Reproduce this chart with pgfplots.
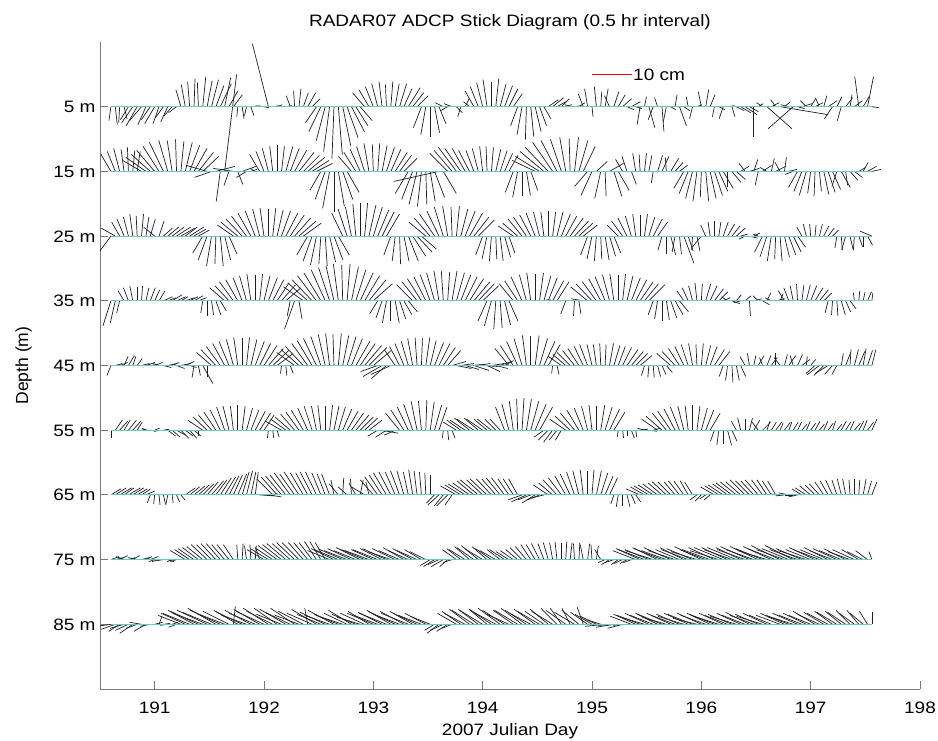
\documentclass[border=0pt]{standalone}
\usepackage{fontspec}
\setmainfont{Liberation Sans}[FakeStretch=1.15]
\newfontfamily\plainsans{Liberation Sans}
\usepackage{pgfplots}
\usepackage{pgfplotstable}
\pgfplotsset{compat=1.18}
\definecolor{baseC}{RGB}{105,200,200}
\definecolor{axC}{RGB}{120,120,120}

% stick tables: t = Julian day, a = east offset (px, 4 px = 1 cm), b = north offset (px)
\pgfplotstableread{
t a b
190.60 -2 -14
190.64 2 -18
190.68 -1 -16
190.72 3 -12
190.76 -8 -13
190.80 -11 -16
190.84 -11 -19
190.88 -12 -14
190.92 -8 -18
190.96 -9 -13
191.00 -10 -17
191.04 -6 -17
191.08 -8 -11
191.12 -7 -15
191.16 -8 -9
191.20 -8 -6
191.24 -5 17
191.28 -4 22
191.32 -2 25
191.36 1 28
191.40 -1 24
191.44 3 30
191.48 5 26
191.52 7 27
191.56 8 21
191.60 11 23
191.64 6 29
191.68 9 16
191.72 9 12
191.76 -1 -10
191.80 2 -12
191.84 -2 -9
191.88 3 -9
191.92 5 1
191.96 -4 1
192.00 5 -1
192.04 -16 63
192.08 6 0
192.12 5 2
192.16 -5 1
192.20 6 1
192.24 -4 11
192.28 -1 16
192.32 2 18
192.36 5 14
192.40 8 14
192.44 8 8
192.48 -11 -16
192.52 -12 -25
192.56 -9 -34
192.60 -6 -45
192.64 -2 -52
192.68 4 -48
192.72 8 -39
192.76 11 -31
192.80 13 -25
192.84 12 -19
192.88 12 -14
192.92 -12 14
192.96 -10 17
193.00 -8 20
193.04 -6 23
193.08 -3 25
193.12 -1 22
193.16 2 25
193.20 4 23
193.24 7 23
193.28 8 18
193.32 12 19
193.36 11 14
193.40 11 11
193.44 -8 -21
193.48 -5 -28
193.52 0 -30
193.56 5 -26
193.60 7 -17
193.64 -8 4
193.68 -7 -4
193.72 -8 3
193.76 6 -6
193.80 -3 -10
193.84 4 8
193.88 -6 5
193.92 -9 16
193.96 -8 20
194.00 -6 24
194.04 -4 27
194.08 0 25
194.12 3 28
194.16 6 23
194.20 8 21
194.24 9 18
194.28 9 13
194.32 -7 -19
194.36 -5 -28
194.40 -1 -33
194.44 3 -30
194.48 6 -25
194.52 7 -19
194.56 7 -12
194.60 10 7
194.64 11 9
194.68 9 5
194.72 8 8
194.76 6 2
194.80 -5 2
194.84 7 1
194.88 6 4
194.92 -5 13
194.96 -3 18
195.00 1 -10
195.04 -2 20
195.08 1 15
195.12 3 18
195.16 -5 11
195.20 5 15
195.24 7 12
195.28 9 8
195.32 7 -3
195.36 9 5
195.40 6 -2
195.44 -3 -18
195.48 2 10
195.52 6 -21
195.56 -5 -13
195.60 -3 9
195.64 2 -25
195.68 -3 -15
195.72 5 -3
195.76 2 12
195.80 7 -19
195.84 6 -4
195.88 -2 10
195.92 -3 -12
195.96 5 2
196.00 -3 15
196.04 3 17
196.08 5 12
196.12 -2 -10
196.16 6 -3
196.20 -4 -12
196.24 7 1
196.28 3 -10
196.32 8 -4
196.36 10 -6
196.40 12 -8
196.44 9 -5
196.48 0 -30
196.52 5 3
196.56 -6 4
196.60 25 -22
196.64 8 4
196.68 -5 7
196.72 48 -8
196.76 6 5
196.80 -8 2
196.84 -25 -22
196.88 7 -2
196.92 10 3
196.96 -6 6
197.00 5 8
197.04 8 4
197.08 -4 9
197.12 3 11
197.16 9 6
197.20 -8 -12
197.24 5 10
197.28 -4 -14
197.32 7 9
197.36 2 12
197.40 8 6
197.44 -4 30
197.48 6 10
197.52 6 30
197.56 7 -1
}\rA

\pgfplotstableread{
t a b
190.60 -10 17
190.64 -8 20
190.68 -6 23
190.72 -3 22
190.76 -1 24
190.80 2 21
190.84 3 20
190.88 -19 11
190.92 -20 14
190.96 -19 17
191.00 -18 21
191.04 -16 25
191.08 -14 29
191.12 -9 31
191.16 -5 31
191.20 -1 32
191.24 3 30
191.28 7 29
191.32 10 26
191.36 13 23
191.40 15 19
191.44 16 15
191.48 -21 6
191.52 -17 -6
191.56 19 5
191.60 -4 -30
191.64 12 97
191.68 -5 -14
191.72 -20 3
191.76 5 -13
191.80 14 5
191.84 -10 -6
191.88 6 2
191.92 -5 3
191.96 -10 17
192.00 -8 20
192.04 -6 23
192.08 -3 25
192.12 0 26
192.16 3 25
192.20 7 25
192.24 9 23
192.28 12 21
192.32 15 19
192.36 16 16
192.40 17 14
192.44 17 11
192.48 16 8
192.52 -11 -19
192.56 -10 -28
192.60 -7 -37
192.64 0 -41
192.68 6 -35
192.72 10 -28
192.76 12 -21
192.80 -13 15
192.84 -12 19
192.88 -10 22
192.92 -8 25
192.96 -5 28
193.00 -1 27
193.04 2 28
193.08 5 26
193.12 8 24
193.16 10 22
193.20 12 19
193.24 12 16
193.28 13 13
193.32 -13 -22
193.36 -11 -28
193.40 -8 -33
193.44 -4 -35
193.48 1 -33
193.52 5 -30
193.56 10 -26
193.60 -45 -10
193.64 13 -22
193.68 -18 18
193.72 -18 21
193.76 -18 24
193.80 -16 23
193.84 -13 23
193.88 -11 21
193.92 -8 21
193.96 -6 23
194.00 -3 25
194.04 -1 25
194.08 2 24
194.12 5 22
194.16 7 21
194.20 8 18
194.24 9 16
194.28 -8 -21
194.32 -5 -26
194.36 0 -25
194.40 4 -24
194.44 7 -19
194.48 -23 11
194.52 -24 15
194.56 -24 20
194.60 -23 24
194.64 -20 29
194.68 -16 31
194.72 -11 32
194.76 -6 34
194.80 -1 33
194.84 4 34
194.88 9 31
194.92 12 25
194.96 -13 -15
195.00 -11 -24
195.04 11 10
195.08 -6 -27
195.12 1 -25
195.16 14 8
195.20 8 -25
195.24 11 -19
195.28 -7 12
195.32 -5 15
195.36 5 -13
195.40 -3 18
195.44 -1 17
195.48 2 18
195.52 3 16
195.56 -2 -12
195.60 5 16
195.64 7 15
195.68 -1 14
195.72 8 13
195.76 8 9
195.80 8 6
195.84 -10 -17
195.88 -9 -22
195.92 -7 -27
195.96 -4 -30
196.00 -1 -26
196.04 3 -30
196.08 6 -27
196.12 8 -24
196.16 9 -20
196.20 10 -17
196.24 0 -16
196.28 9 -11
196.32 9 -8
196.36 8 5
196.40 -6 8
196.44 10 3
196.48 4 12
196.52 -3 -14
196.56 9 6
196.60 -7 4
196.64 3 13
196.68 10 5
196.72 -5 9
196.76 2 14
196.80 8 2
196.84 -8 -3
196.88 -9 -16
196.92 -8 -20
196.96 -7 -24
197.00 -3 -22
197.04 -1 -25
197.08 2 -20
197.12 5 -23
197.16 7 -21
197.20 8 -18
197.24 -5 -15
197.28 9 -16
197.32 2 -14
197.36 8 -9
197.40 8 -6
197.44 7 4
197.48 5 9
197.52 9 5
197.56 9 2
}\rB

\pgfplotstableread{
t a b
190.60 -15 -20
190.64 -14 8
190.68 -8 14
190.72 -7 17
190.76 -5 19
190.80 -3 22
190.84 -1 20
190.88 2 22
190.92 3 19
190.96 5 17
191.00 -11 9
191.04 5 15
191.08 9 8
191.12 11 9
191.16 12 9
191.20 14 9
191.24 14 8
191.28 12 9
191.32 14 9
191.36 12 7
191.40 11 6
191.44 -10 -17
191.48 -9 -24
191.52 -5 -30
191.56 -1 -28
191.60 3 -30
191.64 6 -24
191.68 8 -18
191.72 -16 11
191.76 -17 14
191.80 -16 17
191.84 -15 20
191.88 -13 23
191.92 -10 25
191.96 -7 27
192.00 -4 28
192.04 0 27
192.08 3 28
192.12 6 26
192.16 9 25
192.20 12 23
192.24 14 21
192.28 16 18
192.32 17 15
192.36 18 13
192.40 -11 -19
192.44 -9 -25
192.48 -6 -29
192.52 -2 -28
192.56 2 -30
192.60 6 -26
192.64 9 -24
192.68 11 -19
192.72 -11 23
192.76 -9 27
192.80 -6 29
192.84 -3 32
192.88 0 33
192.92 3 33
192.96 7 31
193.00 9 29
193.04 11 26
193.08 12 24
193.12 13 22
193.16 -7 -19
193.20 -3 -25
193.24 1 -28
193.28 5 -25
193.32 10 -25
193.36 13 -20
193.40 15 -16
193.44 15 -13
193.48 -17 14
193.52 -16 18
193.56 -15 22
193.60 -12 25
193.64 -9 29
193.68 -5 30
193.72 -1 29
193.76 3 30
193.80 7 27
193.84 10 25
193.88 13 23
193.92 15 19
193.96 16 16
194.00 -7 -19
194.04 -5 -23
194.08 -2 -25
194.12 1 -23
194.16 3 -25
194.20 6 -21
194.24 6 -17
194.28 -15 10
194.32 -15 13
194.36 -14 17
194.40 -13 19
194.44 -11 21
194.48 -9 23
194.52 -6 24
194.56 -3 24
194.60 0 25
194.64 3 24
194.68 6 24
194.72 9 22
194.76 11 20
194.80 13 18
194.84 14 15
194.88 14 13
194.92 14 11
194.96 -7 -19
195.00 -5 -23
195.04 -2 -25
195.08 1 -23
195.12 4 -24
195.16 6 -20
195.20 7 -17
195.24 -11 11
195.28 -11 15
195.32 -9 18
195.36 -6 20
195.40 -3 22
195.44 0 21
195.48 3 22
195.52 6 19
195.56 9 17
195.60 10 14
195.64 -4 -14
195.68 0 -18
195.72 5 -19
195.76 -3 -16
195.80 2 -18
195.84 10 -27
195.88 5 -15
195.92 -1 -14
195.96 3 -15
196.00 -9 -11
196.04 -5 11
196.08 -2 14
196.12 0 15
196.16 2 14
196.20 5 14
196.24 7 12
196.28 8 10
196.32 9 8
196.36 7 2
196.40 -6 -3
196.44 8 -2
196.48 6 3
196.52 -5 2
196.56 -8 -16
196.60 -7 -21
196.64 -4 -25
196.68 -1 -23
196.72 2 -25
196.76 5 -21
196.80 7 -19
196.84 8 -16
196.88 8 -11
196.92 -5 9
196.96 -3 12
197.00 -1 12
197.04 1 11
197.08 3 12
197.12 5 10
197.16 6 8
197.20 6 6
197.24 -2 -12
197.28 1 -14
197.32 -4 -14
197.36 3 -13
197.40 -1 -14
197.44 4 -11
197.48 0 -11
197.52 5 -9
197.56 -12 5
}\rC

\pgfplotstableread{
t a b
190.60 -8 -25
190.64 -5 -22
190.68 -3 -12
190.72 -6 10
190.76 -5 13
190.80 -3 15
190.84 0 14
190.88 1 15
190.92 3 13
190.96 5 13
191.00 5 11
191.04 6 10
191.08 9 4
191.12 8 3
191.16 10 6
191.20 9 4
191.24 7 4
191.28 9 3
191.32 8 4
191.36 9 5
191.40 8 3
191.44 -2 -12
191.48 0 -15
191.52 2 -14
191.56 5 -14
191.60 6 -10
191.64 -15 13
191.68 -14 15
191.72 -14 19
191.76 -12 21
191.80 -9 23
191.84 -7 25
191.88 -4 27
191.92 0 26
191.96 3 27
192.00 6 25
192.04 9 23
192.08 11 21
192.12 12 18
192.16 14 16
192.20 15 13
192.24 -3 -15
192.28 -10 -28
192.32 3 -18
192.36 -20 14
192.40 -20 18
192.44 -20 21
192.48 -19 25
192.52 -17 28
192.56 -14 31
192.60 -11 33
192.64 -8 35
192.68 -5 37
192.72 -1 36
192.76 3 37
192.80 7 34
192.84 10 31
192.88 13 28
192.92 15 25
192.96 17 21
193.00 19 17
193.04 -8 -13
193.08 -6 -17
193.12 -4 -22
193.16 0 -20
193.20 4 -22
193.24 6 -18
193.28 8 -14
193.32 9 -11
193.36 -16 16
193.40 -15 19
193.44 -14 22
193.48 -12 24
193.52 -10 26
193.56 -8 28
193.60 -5 30
193.64 -2 30
193.68 2 29
193.72 5 30
193.76 8 28
193.80 10 26
193.84 12 24
193.88 14 22
193.92 16 19
193.96 16 17
194.00 16 15
194.04 -9 -20
194.08 -7 -25
194.12 -2 -28
194.16 2 -27
194.20 6 -24
194.24 9 -20
194.28 -14 17
194.32 -13 20
194.36 -11 24
194.40 -7 26
194.44 -4 28
194.48 0 27
194.52 4 28
194.56 7 25
194.60 9 23
194.64 11 20
194.68 12 19
194.72 -15 1
194.76 -5 -13
194.80 -16 0
194.84 -1 -15
194.88 2 -13
194.92 -12 2
194.96 -17 14
195.00 -16 17
195.04 -14 19
195.08 -12 22
195.12 -10 24
195.16 -7 26
195.20 -4 27
195.24 0 26
195.28 3 27
195.32 6 25
195.36 9 23
195.40 11 21
195.44 13 19
195.48 14 17
195.52 16 16
195.56 -5 -14
195.60 -3 -18
195.64 0 -20
195.68 3 -19
195.72 6 -17
195.76 8 -14
195.80 9 -11
195.84 -7 10
195.88 -6 13
195.92 -4 15
195.96 -2 18
196.00 1 17
196.04 5 17
196.08 7 15
196.12 9 12
196.16 9 9
196.20 7 3
196.24 -6 4
196.28 8 -3
196.32 5 6
196.36 -7 -2
196.40 6 5
196.44 1 -15
196.48 8 2
196.52 -5 5
196.56 7 -4
196.60 4 8
196.64 -6 3
196.68 9 2
196.72 3 7
196.76 -6 10
196.80 -5 13
196.84 -3 15
196.88 -1 17
196.92 2 16
196.96 4 16
197.00 6 15
197.04 8 13
197.08 9 11
197.12 8 8
197.16 -3 -12
197.20 -1 -14
197.24 1 -15
197.28 4 -14
197.32 5 -11
197.36 6 -8
197.40 -1 8
197.44 1 10
197.48 2 9
197.52 4 9
197.56 1 8
}\rD

\pgfplotstableread{
t a b
190.60 -4 -10
190.64 7 2
190.68 8 3
190.72 4 9
190.76 6 10
190.80 3 9
190.84 5 7
190.88 8 2
190.92 9 3
190.96 7 1
191.00 8 3
191.04 -6 2
191.08 8 -2
191.12 9 2
191.16 7 3
191.20 8 -3
191.24 10 2
191.28 9 4
191.32 7 -2
191.36 -2 -12
191.40 2 -10
191.44 10 -18
191.48 0 -12
191.52 -15 13
191.56 -15 16
191.60 -14 19
191.64 -12 22
191.68 -10 24
191.72 -7 26
191.76 -4 28
191.80 0 27
191.84 3 28
191.88 6 26
191.92 9 24
191.96 11 22
192.00 13 20
192.04 15 17
192.08 16 15
192.12 16 12
192.16 -1 -8
192.20 1 -10
192.24 3 -8
192.28 -18 13
192.32 -18 16
192.36 -18 19
192.40 -16 22
192.44 -15 25
192.48 -13 27
192.52 -10 29
192.56 -7 31
192.60 -4 32
192.64 -1 31
192.68 3 32
192.72 6 30
192.76 9 29
192.80 11 27
192.84 14 24
192.88 15 22
192.92 17 20
192.96 18 18
193.00 18 15
193.04 -17 -6
193.08 -19 -11
193.12 -15 -13
193.16 -20 -9
193.20 -11 16
193.24 -10 19
193.28 -9 22
193.32 -7 24
193.36 -5 27
193.40 -2 28
193.44 1 27
193.48 4 28
193.52 6 25
193.56 9 23
193.60 11 22
193.64 12 18
193.68 13 15
193.72 14 4
193.76 15 -3
193.80 13 2
193.84 14 -4
193.88 14 1
193.92 15 -5
193.96 12 2
194.00 15 -1
194.04 13 -6
194.08 13 2
194.12 12 -3
194.16 11 4
194.20 9 5
194.24 -14 17
194.28 -13 20
194.32 -11 24
194.36 -8 27
194.40 -4 30
194.44 0 29
194.48 4 30
194.52 8 27
194.56 11 24
194.60 12 21
194.64 -1 -8
194.68 2 -9
194.72 -13 9
194.76 -13 11
194.80 -13 13
194.84 -12 15
194.88 -11 17
194.92 -9 19
194.96 -8 21
195.00 -5 21
195.04 -3 21
195.08 -1 22
195.12 1 21
195.16 4 22
195.20 6 20
195.24 7 19
195.28 9 18
195.32 11 16
195.36 12 14
195.40 12 12
195.44 12 10
195.48 -3 -10
195.52 -1 -12
195.56 1 -12
195.60 3 -11
195.64 4 -9
195.68 6 -7
195.72 -14 12
195.76 -13 14
195.80 -11 17
195.84 -9 19
195.88 -7 21
195.92 -4 22
195.96 -1 21
196.00 2 22
196.04 5 20
196.08 7 19
196.12 10 16
196.16 11 14
196.20 -4 -11
196.24 -2 -15
196.28 1 -17
196.32 3 -15
196.36 5 -11
196.40 -5 9
196.44 -2 12
196.48 2 10
196.52 6 10
196.56 -3 8
196.60 4 10
196.64 6 8
196.68 0 12
196.72 -6 8
196.76 3 11
196.80 7 10
196.84 -3 10
196.88 5 11
196.92 8 6
196.96 1 9
197.00 5 6
197.04 -9 -8
197.08 -12 -9
197.12 -10 -10
197.16 -13 -8
197.20 -8 -9
197.24 -5 -9
197.28 2 12
197.32 5 13
197.36 1 16
197.40 4 16
197.44 6 14
197.48 3 17
197.52 5 15
197.56 4 16
}\rE

\pgfplotstableread{
t a b
190.60 0 -8
190.64 7 10
190.68 8 9
190.72 6 10
190.76 8 10
190.80 8 9
190.84 5 8
190.88 5 1
190.92 -4 2
190.96 6 -1
191.00 5 2
191.04 -5 -1
191.08 6 1
191.12 8 -6
191.16 8 -7
191.20 9 -5
191.24 8 -8
191.28 8 -6
191.32 7 -8
191.36 7 -6
191.40 0 -6
191.44 -15 10
191.48 -14 13
191.52 -13 15
191.56 -12 18
191.60 -10 20
191.64 -8 23
191.68 -6 24
191.72 -3 24
191.76 0 25
191.80 3 24
191.84 6 22
191.88 8 20
191.92 10 19
191.96 11 17
192.00 10 15
192.04 -1 -8
192.08 1 -8
192.12 2 -7
192.16 -16 9
192.20 -15 11
192.24 -15 13
192.28 -14 16
192.32 -13 18
192.36 -12 20
192.40 -10 22
192.44 -8 24
192.48 -5 24
192.52 -3 25
192.56 0 24
192.60 3 25
192.64 5 24
192.68 7 23
192.72 9 21
192.76 11 19
192.80 12 17
192.84 13 15
192.88 13 13
192.92 13 12
192.96 13 10
193.00 15 -1
193.04 -10 -6
193.08 16 -3
193.12 -11 -7
193.16 15 0
193.20 -11 -5
193.24 -14 17
193.28 -13 20
193.32 -11 23
193.36 -9 26
193.40 -6 29
193.44 -3 29
193.48 1 30
193.52 4 28
193.56 7 25
193.60 8 23
193.64 -1 -8
193.68 1 -10
193.72 3 -8
193.76 -13 8
193.80 -14 10
193.84 -15 10
193.88 -15 12
193.92 -17 11
193.96 -14 12
194.00 -16 11
194.04 -13 11
194.08 -14 11
194.12 -11 11
194.16 -10 11
194.20 -9 23
194.24 -7 26
194.28 -4 29
194.32 -1 31
194.36 2 32
194.40 5 31
194.44 8 29
194.48 11 26
194.52 13 23
194.56 -10 -7
194.60 -10 -10
194.64 -9 -12
194.68 -8 -10
194.72 -6 -10
194.76 -16 11
194.80 -15 14
194.84 -14 17
194.88 -12 20
194.92 -9 22
194.96 -6 24
195.00 -3 25
195.04 0 24
195.08 4 25
195.12 7 23
195.16 10 21
195.20 11 18
195.24 -1 -7
195.28 1 -8
195.32 0 -6
195.36 3 -8
195.40 1 -7
195.44 8 1
195.48 -7 2
195.52 8 -1
195.56 7 2
195.60 -16 11
195.64 -16 14
195.68 -14 17
195.72 -13 19
195.76 -11 21
195.80 -9 23
195.84 -6 24
195.88 -3 24
195.92 0 25
195.96 3 24
196.00 6 22
196.04 8 20
196.08 10 17
196.12 -4 -11
196.16 -2 -15
196.20 0 -14
196.24 4 -15
196.28 5 -11
196.32 -5 9
196.36 -3 12
196.40 0 11
196.44 3 12
196.48 6 10
196.52 -6 8
196.56 8 8
196.60 3 9
196.64 5 8
196.68 6 8
196.72 3 7
196.76 6 8
196.80 3 8
196.84 5 8
196.88 4 8
196.92 5 6
196.96 4 9
197.00 5 7
197.04 5 9
197.08 5 6
197.12 4 9
197.16 5 7
197.20 3 9
197.24 5 6
197.28 5 9
197.32 5 8
197.36 4 9
197.40 6 7
197.44 5 9
197.48 4 10
197.52 6 8
197.56 5 11
}\rF

\pgfplotstableread{
t a b
190.60 10 6
190.64 11 7
190.68 12 7
190.72 10 7
190.76 12 7
190.80 11 7
190.84 10 6
190.88 9 6
190.92 9 4
190.96 -3 -8
191.00 -1 -9
191.04 1 -10
191.08 2 -9
191.12 -2 -10
191.16 1 -8
191.20 3 -7
191.24 4 -5
191.28 10 7
191.32 10 8
191.36 11 9
191.40 11 10
191.44 11 11
191.48 11 13
191.52 12 14
191.56 11 15
191.60 11 17
191.64 11 18
191.68 10 19
191.72 9 20
191.76 9 21
191.80 7 23
191.84 6 24
191.88 5 23
191.92 3 23
191.96 15 -1
192.00 14 1
192.04 13 -2
192.08 -16 16
192.12 -16 18
192.16 -16 19
192.20 -16 20
192.24 -16 22
192.28 -15 21
192.32 -15 23
192.36 -13 22
192.40 -12 22
192.44 -12 23
192.48 -11 23
192.52 -9 22
192.56 -8 21
192.60 -8 21
192.64 -3 15
192.68 -9 11
192.72 1 17
192.76 -9 8
192.80 -1 16
192.84 -7 12
192.88 3 15
192.92 -13 8
192.96 -3 13
193.00 -13 15
193.04 -13 18
193.08 -13 20
193.12 -13 22
193.16 -12 23
193.20 -10 23
193.24 -9 24
193.28 -7 24
193.32 -5 23
193.36 -4 25
193.40 -3 24
193.44 -2 23
193.48 -1 22
193.52 0 20
193.56 -8 -8
193.60 -11 -10
193.64 -9 -11
193.68 -11 -11
193.72 -7 -10
193.76 -16 9
193.80 -16 10
193.84 -17 11
193.88 -17 12
193.92 -17 14
193.96 -18 15
194.00 -16 15
194.04 -17 16
194.08 -15 16
194.12 -14 16
194.16 -14 17
194.20 -13 17
194.24 -11 16
194.28 -10 16
194.32 -9 16
194.36 -14 -5
194.40 -15 -7
194.44 -13 -5
194.48 -13 -8
194.52 -12 -5
194.56 -12 -3
194.60 -15 10
194.64 -14 12
194.68 -14 15
194.72 -13 17
194.76 -11 19
194.80 -10 21
194.84 -8 23
194.88 -6 24
194.92 -3 25
194.96 0 24
195.00 2 25
195.04 5 24
195.08 7 22
195.12 8 19
195.16 8 17
195.20 -3 -9
195.24 -2 -12
195.28 0 -11
195.32 3 -12
195.36 4 -9
195.40 5 -7
195.44 -14 6
195.48 -14 8
195.52 -15 9
195.56 -15 10
195.60 -15 11
195.64 -14 12
195.68 -14 13
195.72 -13 13
195.76 -11 13
195.80 -11 14
195.84 -10 14
195.88 -8 14
195.92 -8 13
195.96 -7 -5
196.00 -6 -6
196.04 -6 -4
196.08 -6 -5
196.12 -14 8
196.16 -14 9
196.20 -15 10
196.24 -15 11
196.28 -16 12
196.32 -16 13
196.36 -15 13
196.40 -15 15
196.44 -14 14
196.48 -13 14
196.52 -13 15
196.56 -11 15
196.60 -10 15
196.64 -9 14
196.68 -8 14
196.72 -10 1
196.76 -9 -1
196.80 -10 2
196.84 -8 0
196.88 -9 -2
196.92 -10 6
196.96 -11 7
197.00 -11 9
197.04 -10 10
197.08 -10 11
197.12 -9 13
197.16 -8 14
197.20 -7 15
197.24 -5 15
197.28 -4 16
197.32 -3 16
197.36 -1 15
197.40 0 16
197.44 1 15
197.48 3 16
197.52 4 14
197.56 5 13
}\rG

\pgfplotstableread{
t a b
190.60 8 3
190.64 8 2
190.68 8 4
190.72 -8 3
190.76 7 2
190.80 7 4
190.84 -9 2
190.88 8 2
190.92 6 3
190.96 8 3
191.00 -6 -2
191.04 -7 -2
191.08 -6 -1
191.12 6 -2
191.16 -5 -2
191.20 -6 -2
191.24 -5 0
191.28 -15 9
191.32 -15 10
191.36 -16 11
191.40 -16 12
191.44 -16 13
191.48 -16 15
191.52 -15 15
191.56 -15 16
191.60 -14 16
191.64 -13 15
191.68 -12 15
191.72 -10 15
191.76 -1 15
191.80 1 16
191.84 -2 14
191.88 -1 15
191.92 1 14
191.96 -4 12
192.00 -17 10
192.04 -18 11
192.08 -18 12
192.12 -19 14
192.16 -19 15
192.20 -19 16
192.24 -18 16
192.28 -18 17
192.32 -17 17
192.36 -15 17
192.40 -14 17
192.44 -13 17
192.48 -12 18
192.52 -11 18
192.56 -10 17
192.60 -22 9
192.64 -23 11
192.68 -24 10
192.72 -25 11
192.76 -23 9
192.80 -24 11
192.84 -22 9
192.88 -24 12
192.92 -23 10
192.96 -24 9
193.00 -22 10
193.04 -25 10
193.08 -22 11
193.12 -24 11
193.16 -23 8
193.20 -23 11
193.24 -21 9
193.28 -21 12
193.32 -20 9
193.36 -20 11
193.40 -20 9
193.44 -17 10
193.48 -16 8
193.52 -10 -6
193.56 -11 -7
193.60 -11 -5
193.64 -12 -7
193.68 -8 -7
193.72 -9 -3
193.76 -14 10
193.80 -14 11
193.84 -16 10
193.88 -15 13
193.92 -17 12
193.96 -17 14
194.00 -18 11
194.04 -15 13
194.08 -16 11
194.12 -16 9
194.16 -13 10
194.20 -15 10
194.24 -13 8
194.28 -13 9
194.32 -12 10
194.36 -12 12
194.40 -11 13
194.44 -10 15
194.48 -9 15
194.52 -8 16
194.56 -6 16
194.60 -5 17
194.64 -3 17
194.68 -2 18
194.72 0 17
194.76 1 18
194.80 2 17
194.84 -1 16
194.88 1 17
194.92 -3 15
194.96 2 16
195.00 -1 15
195.04 2 14
195.08 -6 10
195.12 -7 -3
195.16 -8 -5
195.20 -9 -3
195.24 -7 -5
195.28 -9 -4
195.32 -7 -4
195.36 -8 -3
195.40 -23 9
195.44 -24 11
195.48 -26 10
195.52 -24 10
195.56 -28 9
195.60 -25 12
195.64 -28 11
195.68 -25 9
195.72 -27 12
195.76 -27 9
195.80 -24 10
195.84 -24 12
195.88 -27 10
195.92 -26 11
195.96 -26 8
196.00 -27 13
196.04 -26 10
196.08 -28 10
196.12 -26 12
196.16 -29 9
196.20 -29 12
196.24 -26 12
196.28 -28 10
196.32 -29 12
196.36 -25 12
196.40 -28 10
196.44 -29 13
196.48 -28 10
196.52 -28 13
196.56 -27 11
196.60 -29 9
196.64 -28 13
196.68 -28 11
196.72 -29 14
196.76 -28 10
196.80 -27 11
196.84 -28 14
196.88 -28 10
196.92 -26 11
196.96 -28 9
197.00 -25 10
197.04 -26 12
197.08 -26 10
197.12 -24 10
197.16 -24 12
197.20 -23 9
197.24 -24 11
197.28 -22 9
197.32 -22 11
197.36 -22 8
197.40 -22 10
197.44 -17 10
197.48 -16 8
197.52 -12 9
197.56 -3 8
}\rH

\pgfplotstableread{
t a b
190.60 -14 -2
190.64 -14 -5
190.68 -11 -7
190.72 -14 -4
190.76 -13 -6
190.80 -13 -9
190.84 -11 -4
190.88 -12 2
190.92 -12 -7
190.96 -10 -2
191.00 8 2
191.04 3 8
191.08 7 1
191.12 -8 -1
191.16 6 2
191.20 -8 -3
191.24 -23 9
191.28 -24 11
191.32 -27 11
191.36 -26 14
191.40 -28 13
191.44 -30 11
191.48 -30 14
191.52 -29 12
191.56 -28 16
191.60 -30 14
191.64 -28 11
191.68 -26 13
191.72 2 18
191.76 -24 14
191.80 -27 13
191.84 -25 9
191.88 -26 14
191.92 -26 11
191.96 -26 15
192.00 -28 13
192.04 -25 16
192.08 -26 13
192.12 -23 16
192.16 -25 10
192.20 -26 15
192.24 -25 12
192.28 -24 16
192.32 -24 9
192.36 -25 13
192.40 -3 16
192.44 -25 11
192.48 -25 15
192.52 -24 10
192.56 -25 12
192.60 -25 9
192.64 -26 14
192.68 -24 10
192.72 -27 9
192.76 -23 11
192.80 -23 14
192.84 -24 10
192.88 -23 7
192.92 -24 11
192.96 -21 13
193.00 -26 11
193.04 -24 9
193.08 -24 12
193.12 -27 11
193.16 -24 14
193.20 -27 13
193.24 -26 10
193.28 -24 13
193.32 -27 11
193.36 -23 13
193.40 -24 11
193.44 -23 9
193.48 -21 11
193.52 -20 8
193.56 -10 -6
193.60 -12 -9
193.64 -13 -6
193.68 -11 -7
193.72 -10 -4
193.76 -19 11
193.80 -19 13
193.84 -21 11
193.88 -20 15
193.92 -22 14
193.96 -20 15
194.00 -23 14
194.04 -18 15
194.08 -22 15
194.12 -22 12
194.16 -22 16
194.20 -22 14
194.24 -22 10
194.28 -20 14
194.32 -23 14
194.36 -21 16
194.40 -21 14
194.44 -21 11
194.48 -21 15
194.52 -22 13
194.56 -19 13
194.60 -18 15
194.64 -21 13
194.68 -16 16
194.72 -11 16
194.76 -20 14
194.80 -8 16
194.84 -20 12
194.88 -17 14
194.92 -6 17
194.96 -17 12
195.00 -17 10
195.04 -16 8
195.08 -15 5
195.12 -20 -2
195.16 -22 0
195.20 -18 -3
195.24 -20 -1
195.28 -15 -4
195.32 -14 -1
195.36 -21 8
195.40 -22 10
195.44 -23 9
195.48 -23 7
195.52 -24 11
195.56 -23 9
195.60 -22 11
195.64 -24 10
195.68 -24 7
195.72 -24 11
195.76 -24 9
195.80 -23 10
195.84 -26 8
195.88 -24 11
195.92 -25 10
195.96 -24 6
196.00 -24 11
196.04 -25 9
196.08 -23 11
196.12 -25 10
196.16 -25 8
196.20 -24 11
196.24 -23 9
196.28 -24 10
196.32 -26 8
196.36 -24 11
196.40 -23 9
196.44 -24 12
196.48 -24 9
196.52 -23 10
196.56 -26 8
196.60 -24 11
196.64 -22 9
196.68 -10 0
196.72 -24 9
196.76 -24 11
196.80 -23 9
196.84 -25 8
196.88 -25 11
196.92 -23 9
196.96 -23 11
197.00 -22 9
197.04 -22 13
197.08 -22 10
197.12 -20 12
197.16 -21 11
197.20 -18 13
197.24 -20 12
197.28 -16 13
197.32 -18 12
197.36 -14 14
197.40 -15 11
197.44 -12 14
197.48 -13 11
197.52 -8 13
197.56 0 12
}\rI

\pgfplotsset{
  stk/.style={black!88, line width=0.7pt, quiver={u=\thisrow{a}/109.3333, v=\thisrow{b}/6.47}},
}

\begin{document}
\begin{tikzpicture}
\path[use as bounding box] (0pt,0pt) rectangle (938pt,740pt);
\begin{axis}[
  at={(100pt,51pt)}, anchor=south west,
  scale only axis, width=820pt, height=647pt,
  xmin=190.5, xmax=198, ymin=-95, ymax=5,
  axis x line*=bottom, axis y line*=left,
  axis line style={draw=axC, line width=0.9pt, -},
  tick align=inside, major tick length=8pt,
  tick style={draw=axC, line width=0.9pt},
  xtick={191,192,193,194,195,196,197,198},
  xticklabels={191,192,193,194,195,196,197,198},
  ytick={-85,-75,-65,-55,-45,-35,-25,-15,-5},
  yticklabels={85 m,75 m,65 m,55 m,45 m,35 m,25 m,15 m,5 m},
  ticklabel style={font=\fontsize{16.5}{18}\selectfont},
  xticklabel style={anchor=base, yshift=-24pt},
  yticklabel style={anchor=base east, yshift=-6pt, xshift=-1pt},
  title={RADAR07 ADCP Stick Diagram (0.5 hr interval)},
  title style={at={(axis description cs:0.5,1)}, anchor=base, yshift=9pt, font=\fontsize{16.5}{18}\selectfont},
  xlabel={2007 Julian Day},
  xlabel style={at={(axis description cs:0.5,0)}, anchor=base, yshift=-46pt, font=\fontsize{16.5}{18}\selectfont},
  ylabel={Depth (m)},
  ylabel style={at={(axis description cs:-0.0878,0.5)}, anchor=base, rotate=0, font=\plainsans\fontsize{17.5}{19}\selectfont},
  clip=true,
]
\addplot[stk] table[x=t, y expr=-5] {\rA};
\addplot[stk] table[x=t, y expr=-15] {\rB};
\addplot[stk] table[x=t, y expr=-25] {\rC};
\addplot[stk] table[x=t, y expr=-35] {\rD};
\addplot[stk] table[x=t, y expr=-45] {\rE};
\addplot[stk] table[x=t, y expr=-55] {\rF};
\addplot[stk] table[x=t, y expr=-65] {\rG};
\addplot[stk] table[x=t, y expr=-75] {\rH};
\addplot[stk] table[x=t, y expr=-85] {\rI};
\addplot[baseC, line width=1pt] coordinates {(190.60,-5) (197.56,-5)};
\addplot[baseC, line width=1pt] coordinates {(190.60,-15) (197.56,-15)};
\addplot[baseC, line width=1pt] coordinates {(190.60,-25) (197.56,-25)};
\addplot[baseC, line width=1pt] coordinates {(190.60,-35) (197.56,-35)};
\addplot[baseC, line width=1pt] coordinates {(190.60,-45) (197.56,-45)};
\addplot[baseC, line width=1pt] coordinates {(190.60,-55) (197.56,-55)};
\addplot[baseC, line width=1pt] coordinates {(190.60,-65) (197.56,-65)};
\addplot[baseC, line width=1pt] coordinates {(190.60,-75) (197.56,-75)};
\addplot[baseC, line width=1pt] coordinates {(190.60,-85) (197.56,-85)};
% 10 cm scale bar
\addplot[red, line width=0.8pt] coordinates {(195.0,0) (195.366,0)};
\node[anchor=west, inner sep=1pt, font=\fontsize{16.5}{18}\selectfont] at (axis cs:195.366,0) {10 cm};
\end{axis}
\end{tikzpicture}
\end{document}
